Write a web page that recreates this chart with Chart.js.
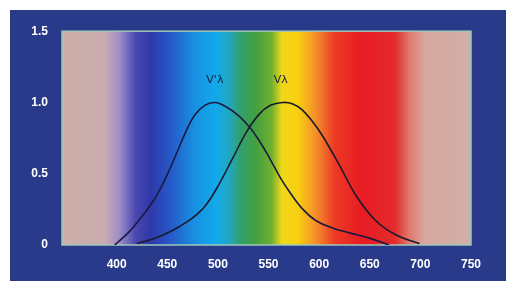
<!DOCTYPE html>
<html>
<head>
<meta charset="utf-8">
<script src="https://cdn.jsdelivr.net/npm/chart.js@4/dist/chart.umd.min.js"></script>
<style>
  html, body { margin: 0; padding: 0; background: #ffffff; }
  #wrap { position: absolute; left: 10px; top: 10px; width: 496px; height: 271px; background: #293a8a; }
  canvas { display: block; }
</style>
</head>
<body>
<div id="wrap"><canvas id="chart" width="496" height="271"></canvas></div>
<script>
// longitudes de onda (nm) y sensibilidad relativa
const scotopicNm = [398, 412, 426, 438, 449, 459, 468, 477, 487, 497, 508, 520, 531, 541, 551, 561, 571, 584, 597, 613, 630, 649, 669];
const scotopicV  = [0.00, 0.09, 0.21, 0.33, 0.48, 0.64, 0.79, 0.91, 0.98, 1.00, 0.97, 0.91, 0.83, 0.73, 0.61, 0.48, 0.37, 0.25, 0.17, 0.12, 0.085, 0.05, 0.00];

const photopicNm = [420, 435, 449, 462, 475, 487, 499, 514, 528, 541, 552, 564, 574, 583, 593, 603, 620, 637, 656, 676, 699];
const photopicV  = [0.01, 0.04, 0.08, 0.13, 0.19, 0.27, 0.40, 0.60, 0.79, 0.92, 0.98, 1.00, 0.99, 0.95, 0.87, 0.77, 0.56, 0.34, 0.17, 0.07, 0.01];

const xTicks = [400, 450, 500, 550, 600, 650, 700, 750];
const yTicks = [0, 0.5, 1.0, 1.5];

const curveLabels = [
  { text: "V'λ", x: 497, y: 1.16 },
  { text: 'Vλ', x: 562, y: 1.16 }
];

// colores del espectro de fondo (fracción del ancho del área)
const spectrumStops = [
  [0.000, '#cdb0a8'], [0.105, '#c9abb0'], [0.140, '#9d8ec8'], [0.180, '#4a48b0'],
  [0.215, '#3038a8'], [0.264, '#2658c8'], [0.325, '#1890e0'], [0.374, '#12a8ea'],
  [0.406, '#20a8c8'], [0.435, '#30a070'], [0.472, '#40a040'], [0.513, '#70b030'],
  [0.538, '#f0d818'], [0.577, '#f8d010'], [0.620, '#f5902a'], [0.667, '#ec3a25'],
  [0.730, '#e81c24'], [0.814, '#e42a2a'], [0.850, '#e07a70'], [0.888, '#d8a8a0'],
  [1.000, '#cfb0a8']
];

function toPoints(xs, ys) {
  return xs.map((x, i) => ({ x: x, y: ys[i] }));
}

const spectrumPlugin = {
  id: 'spectrum',
  beforeDatasetsDraw(chart) {
    const a = chart.chartArea;
    const ctx = chart.ctx;
    const g = ctx.createLinearGradient(a.left, 0, a.right, 0);
    spectrumStops.forEach(s => g.addColorStop(s[0], s[1]));
    ctx.save();
    ctx.fillStyle = g;
    ctx.fillRect(a.left, a.top, a.right - a.left, a.bottom - a.top);
    ctx.strokeStyle = '#9fc8b8';
    ctx.lineWidth = 1.5;
    ctx.strokeRect(a.left, a.top, a.right - a.left, a.bottom - a.top);
    ctx.restore();
  },
  afterDatasetsDraw(chart) {
    const ctx = chart.ctx;
    const xs = chart.scales.x, ys = chart.scales.y;
    ctx.save();
    ctx.fillStyle = '#1c1c3c';
    ctx.font = '11px "DejaVu Sans"';
    ctx.textAlign = 'center';
    ctx.textBaseline = 'middle';
    curveLabels.forEach(l => {
      ctx.fillText(l.text, xs.getPixelForValue(l.x), ys.getPixelForValue(l.y));
    });
    ctx.restore();
  }
};

const tickFont = { family: '"Liberation Sans", Arial, sans-serif', size: 12, weight: 'bold' };

new Chart(document.getElementById('chart'), {
  type: 'line',
  data: {
    datasets: [
      {
        label: "V'λ",
        data: toPoints(scotopicNm, scotopicV),
        borderColor: '#1a1a44',
        borderWidth: 1.6,
        pointRadius: 0,
        tension: 0.4,
        fill: false
      },
      {
        label: 'Vλ',
        data: toPoints(photopicNm, photopicV),
        borderColor: '#1a1a2c',
        borderWidth: 1.6,
        pointRadius: 0,
        tension: 0.4,
        fill: false
      }
    ]
  },
  options: {
    responsive: false,
    animation: false,
    layout: { padding: { left: 0, top: 17, right: 35, bottom: 0 } },
    plugins: { legend: { display: false }, tooltip: { enabled: false } },
    scales: {
      x: {
        type: 'linear',
        min: 346,
        max: 750,
        afterFit(scale) { scale.height = 36; },
        afterBuildTicks(scale) { scale.ticks = xTicks.map(v => ({ value: v })); },
        grid: { display: false, drawTicks: false },
        border: { display: false },
        ticks: { color: '#ffffff', font: tickFont, padding: 12, maxRotation: 0, autoSkip: false }
      },
      y: {
        min: 0,
        max: 1.5,
        afterFit(scale) { scale.width = 52; },
        afterBuildTicks(scale) { scale.ticks = yTicks.map(v => ({ value: v })); },
        grid: { display: false, drawTicks: false },
        border: { display: false },
        ticks: {
          color: '#ffffff',
          font: tickFont,
          padding: 14,
          callback: v => (v === 0 ? '0' : v.toFixed(1))
        }
      }
    }
  },
  plugins: [spectrumPlugin]
});
</script>
</body>
</html>
